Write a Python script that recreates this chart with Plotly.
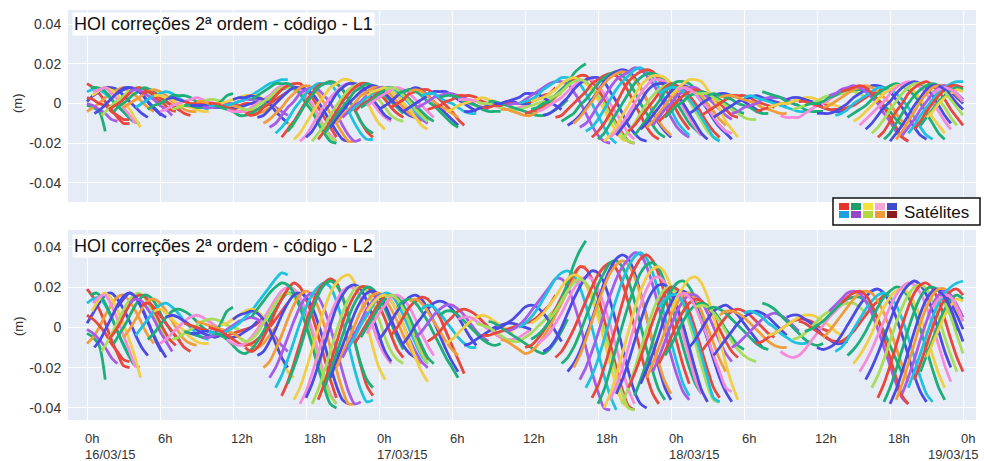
import plotly.graph_objects as go

# ---------------- DATA (hours since 16/03/15 0h, values in mm, 0.5 h sampling) ----------------
STEP_H = 0.5

D1_START = [0.0, 0.0, 0.0, 0.0, 0.0, 0.0, 0.0, 0.3, 0.4, 0.5, 0.6, 1.2, 1.8, 2.2, 2.5, 3.0, 3.5, 4.0, 4.5, 5.0,
            5.5, 6.0, 6.5, 7.0, 8.0, 8.0, 8.5, 9.0, 9.5, 10.0, 10.0, 10.5, 11.0, 11.5, 12.0, 12.5, 13.0, 13.5,
            14.0, 14.5, 15.0, 15.5, 16.0, 16.5, 17.0, 17.5, 18.0, 18.5, 19.0, 19.5, 20.0, 20.5, 21.0, 21.5,
            22.0, 22.5, 23.0, 23.0]
D1_L2 = [
    [19, 15, 9, 2, -6, -13, -19, -20], [-3, -5, -9, -26], [2, 7, 12, 16, 17, 14, 9, 3, -4, -10, -14],
    [-8, -5, 0, 6, 11, 15, 16, 13, 8, 2, -4, -8], [-1, -3, -6, -10, -15, -18], [12, 14, 15, 11, 5, -2, -9, -15],
    [6, 4, 1, -3, -8, -12, -16, -17], [16, 17, 14, 8, 1, -6, -12, -18, -20], [8, 13, 17, 15, 10, 3, -5, -14, -25],
    [12, 15, 16, 11, 4, -4, -12, -20], [-10, -6, 0, 6, 12, 16, 17, 14, 8, 1, -6, -12],
    [-12, -7, -1, 5, 11, 15, 17, 15, 10, 4, -2, -7], [-6, -2, 3, 9, 14, 16, 15, 11, 5, -1, -6, -9],
    [-8, -3, 2, 8, 13, 16, 15, 11, 5, 0, -4, -7], [10, 14, 17, 15, 10, 3, -4, -10, -15],
    [-5, -1, 4, 9, 13, 14, 12, 8, 3, -2, -6, -8, -9], [12, 14, 13, 9, 4, -2, -7, -12],
    [-4, 0, 4, 8, 11, 12, 10, 7, 3, 0, -3, -5, -6], [11, 12, 10, 6, 2, -2, -6, -10, -12],
    [-6, -3, 1, 5, 8, 9, 8, 6, 3, 0, -2, -3], [8, 9, 7, 4, 1, -2, -5, -7, -8, -8],
    [-8, -6, -3, 0, 3, 5, 6, 5, 3, 1, -1, -2], [5, 6, 5, 3, 1, -1, -3, -4, -5, -4, -3],
    [-6, -5, -3, -1, 1, 3, 4, 4, 3, 1, 0, -1], [2, 1, 0, -1, -2, -3, -4, -4, -3, -2, -1, 0, 2, 5],
    [-2, -3, -4, -5, -5, -3, 2, 8, 10], [-3, -3, -2, -2, -3, -4, -5, -5, -4, -2, 0, 3],
    [3, 2, 1, 0, -1, -2, -3, -5, -7, -9, -10, -8, -4, 0], [-5, -5, -4, -3, -1, 1, 3, 4, 5, 4, 2, -1, -5, -9, -12],
    [-2, -3, -3, -2, 0, 2, 5, 8, 12, 16, 20, 24, 27, 26], [0, -1, -2, -4, -6, -8, -9, -8, -6, -3, 0, 4, 8, 12],
    [-3, -4, -6, -9, -12, -13, -11, -7, -2, 4, 9, 14, 17, 16, 12, 5, -5, -16, -26, -34],
    [1, 2, 4, 6, 8, 9, 8, 5, 0, -7, -15, -22, -25],
    [-6, -8, -9, -8, -5, -1, 4, 9, 14, 18, 20, 19, 15, 8, -1, -12, -24, -33, -38],
    [4, 6, 7, 8, 7, 4, -1, -8, -15, -20],
    [-5, -7, -6, -3, 2, 7, 12, 16, 17, 15, 10, 3, -6, -16, -26, -34, -38],
    [-10, -12, -10, -5, 1, 8, 14, 19, 22, 20, 14, 6, -4, -15, -26, -35],
    [5, 9, 13, 17, 20, 22, 21, 17, 10, 1, -9, -20, -30, -38, -40],
    [-14, -12, -7, -1, 6, 12, 16, 17, 15, 10, 2, -8, -19, -29, -36, -38],
    [-20, -17, -11, -4, 4, 11, 16, 18, 16, 10, 1, -10, -21, -31, -38, -38],
    [-25, -20, -13, -5, 3, 10, 15, 17, 15, 9, 0, -11, -22, -32, -38, -37],
    [-30, -24, -16, -7, 2, 10, 16, 20, 22, 20, 13, 3, -9, -21, -31, -37, -36],
    [-34, -27, -18, -8, 2, 11, 18, 22, 24, 22, 15, 5, -7, -19, -29, -34],
    [-28, -20, -11, -1, 8, 16, 21, 23, 21, 15, 5, -7, -18, -26, -30],
    [-36, -30, -21, -11, -1, 9, 17, 22, 25, 26, 22, 13, 2, -10, -20, -26],
    [-38, -32, -23, -13, -3, 6, 13, 18, 20, 19, 15, 8, 0, -8, -14, -18],
    [-35, -28, -19, -9, 1, 10, 16, 20, 21, 19, 13, 5, -4, -12, -17],
    [-38, -31, -22, -12, -2, 7, 14, 19, 20, 18, 12, 4, -5, -12, -16, -18],
    [-36, -28, -18, -8, 2, 10, 16, 20, 20, 17, 11, 4, -4, -11, -15],
    [-30, -22, -13, -4, 5, 12, 17, 20, 19, 15, 9, 2, -5, -11],
    [-25, -17, -9, -1, 7, 13, 17, 18, 16, 11, 4, -3, -9, -13, -15],
    [-20, -13, -6, 1, 8, 13, 16, 17, 14, 9, 3, -4, -10, -15, -18],
    [-15, -9, -3, 3, 9, 13, 16, 16, 13, 8, 1, -6, -12, -17, -20],
    [-10, -5, 1, 6, 11, 15, 17, 16, 12, 6, -1, -8, -14, -18],
    [-8, -3, 2, 7, 12, 15, 16, 14, 10, 4, -3, -10, -16],
    [-5, 0, 5, 10, 14, 16, 15, 11, 5, -2, -9, -15, -18],
    [8, 12, 15, 16, 13, 8, 1, -7, -15, -22, -27],
    [-3, 2, 7, 11, 15, 16, 14, 10, 4, -3, -9, -14],
]
D1_L1 = [
    [10, 8, 5, 1, -3, -7, -10, -10], [-1, -2, -4, -14], [1, 4, 6, 8, 8, 7, 4, 1, -2, -5, -7],
    [-4, -2, 0, 3, 5, 7, 8, 6, 4, 1, -2, -4], [0, -1, -3, -5, -8, -9], [6, 7, 7, 5, 2, -1, -4, -7],
    [3, 2, 0, -1, -4, -6, -8, -8], [8, 8, 7, 4, 0, -3, -6, -9, -10], [4, 6, 8, 7, 5, 1, -2, -7, -12],
    [6, 7, 8, 5, 2, -2, -6, -10], [-5, -3, 0, 3, 6, 8, 8, 7, 4, 0, -3, -6],
    [-6, -3, 0, 2, 5, 7, 8, 7, 5, 2, -1, -3], [-3, -1, 1, 4, 7, 8, 7, 5, 2, 0, -3, -4],
    [-4, -1, 1, 4, 6, 8, 7, 5, 2, 0, -2, -3], [5, 7, 8, 7, 5, 1, -2, -5, -7],
    [-2, 0, 2, 4, 6, 7, 6, 4, 1, -1, -3, -4, -4], [6, 7, 6, 4, 2, -1, -3, -6],
    [-2, 0, 2, 4, 5, 6, 5, 3, 1, 0, -1, -2, -3], [5, 6, 5, 3, 1, -1, -3, -5, -6],
    [-3, -1, 0, 2, 4, 4, 4, 3, 1, 0, -1, -1], [4, 4, 3, 2, 0, -1, -2, -3, -4, -4],
    [-4, -3, -1, 0, 1, 2, 3, 2, 1, 0, 0, -1], [2, 3, 2, 1, 0, 0, -1, -2, -2, -2, -1],
    [-3, -2, -1, 0, 0, 1, 2, 2, 1, 0, 0, 0], [1, 0, 0, 0, -1, -1, -2, -2, -1, -1, 0, 0, 1, 2],
    [-1, -1, -2, -2, -2, -1, 1, 4, 5], [-1, -1, -1, -1, -1, -2, -2, -2, -2, -1, 0, 1],
    [1, 1, 0, 0, 0, -1, -1, -2, -3, -4, -5, -4, -2, 0], [-2, -2, -2, -1, 0, 0, 1, 2, 2, 2, 1, 0, -2, -4, -6],
    [-1, -1, -1, -1, 0, 1, 2, 4, 6, 8, 10, 11, 12, 12], [0, 0, -1, -2, -3, -4, -4, -4, -3, -1, 0, 2, 4, 6],
    [-1, -2, -3, -4, -6, -6, -5, -3, -1, 2, 4, 7, 8, 8, 6, 2, -2, -8, -13, -17],
    [0, 1, 2, 3, 4, 4, 4, 2, 0, -3, -7, -10, -12],
    [-3, -4, -4, -4, -2, 0, 2, 4, 7, 9, 10, 9, 7, 4, 0, -6, -12, -16, -19],
    [2, 3, 3, 4, 3, 2, 0, -4, -7, -10],
    [-2, -3, -3, -1, 1, 3, 6, 8, 8, 7, 5, 1, -3, -8, -13, -17, -19],
    [-5, -6, -5, -2, 0, 4, 7, 9, 10, 10, 7, 3, -2, -7, -12, -17],
    [2, 4, 6, 8, 10, 10, 10, 8, 5, 0, -4, -10, -15, -19, -20],
    [-7, -6, -3, 0, 3, 6, 8, 8, 7, 5, 1, -4, -9, -14, -18, -19],
    [-10, -8, -5, -2, 2, 5, 8, 9, 8, 5, 0, -5, -10, -15, -19, -19],
    [-12, -10, -6, -2, 1, 5, 7, 8, 7, 4, 0, -5, -11, -16, -19, -18],
    [-15, -12, -8, -3, 1, 5, 8, 10, 10, 10, 6, 1, -4, -10, -15, -18, -18],
    [-17, -13, -9, -4, 1, 5, 9, 10, 11, 10, 7, 2, -3, -9, -14, -17],
    [-14, -10, -5, 0, 4, 8, 10, 11, 10, 7, 2, -3, -9, -13, -15],
    [-18, -15, -10, -5, 0, 4, 8, 10, 12, 12, 10, 6, 1, -5, -10, -13],
    [-19, -16, -11, -6, -1, 3, 6, 9, 10, 9, 7, 4, 0, -4, -7, -9],
    [-17, -14, -9, -4, 0, 5, 8, 10, 10, 9, 6, 2, -2, -6, -8],
    [-19, -15, -11, -6, -1, 3, 7, 9, 10, 9, 6, 2, -2, -6, -8, -9],
    [-18, -14, -9, -4, 1, 5, 8, 10, 10, 8, 5, 2, -2, -5, -7],
    [-15, -11, -6, -2, 2, 6, 8, 10, 9, 7, 4, 1, -2, -5],
    [-12, -8, -4, 0, 3, 6, 8, 9, 8, 5, 2, -1, -4, -6, -7],
    [-10, -6, -3, 0, 4, 6, 8, 8, 7, 4, 1, -2, -5, -7, -9],
    [-7, -4, -1, 1, 4, 6, 8, 8, 6, 4, 0, -3, -6, -8, -10],
    [-5, -2, 0, 3, 5, 7, 8, 8, 6, 3, 0, -4, -7, -9],
    [-4, -1, 1, 3, 6, 7, 8, 7, 5, 2, -1, -5, -8],
    [-2, 0, 2, 5, 7, 8, 7, 5, 2, -1, -4, -7, -9],
    [4, 6, 7, 8, 6, 4, 0, -3, -7, -11, -13],
    [-1, 1, 3, 5, 7, 8, 7, 5, 2, -1, -4, -7],
]

D2_START = [24.0, 24.5, 25.0, 25.5, 26.0, 26.5, 27.0, 27.5, 28.0, 29.0, 29.5, 30.5, 31.0, 32.0, 32.5, 33.0,
            33.5, 34.0, 34.5, 35.5, 36.0, 36.5, 36.5, 37.0, 37.5, 38.0, 38.5, 39.0, 39.5, 40.0, 40.5, 41.0,
            41.5, 42.0, 42.5, 43.0, 43.5, 44.0, 44.5, 45.0, 45.5, 46.0, 46.5, 47.0, 47.0, 47.5]
D2_L2 = [
    [-6, -2, 3, 8, 12, 15, 16, 14, 9, 3, -4, -11, -17, -22], [15, 16, 14, 9, 2, -6, -13, -18],
    [-4, 0, 5, 10, 13, 15, 14, 10, 5, -2, -9, -16, -23], [10, 13, 14, 12, 8, 3, -3, -9, -15, -20, -25],
    [-8, -4, 1, 5, 9, 12, 13, 12, 9, 5, 0, -5, -9], [13, 14, 12, 8, 3, -2, -7, -11, -14],
    [-5, -2, 2, 6, 9, 11, 11, 9, 6, 2, -2, -5, -7], [9, 11, 10, 7, 3, -1, -5, -8, -10, -10],
    [-7, -5, -2, 2, 5, 8, 9, 8, 6, 3, 0, -3, -5], [6, 8, 8, 6, 3, 0, -3, -6, -8, -9, -8],
    [-8, -6, -3, 0, 3, 5, 6, 5, 3, 1, -1, -3], [4, 5, 5, 3, 1, -1, -3, -5, -6, -6, -5, -3, -1],
    [-9, -8, -6, -4, -2, 0, 1, 2, 2, 1, 0, -1], [2, 1, 0, -2, -4, -6, -7, -7, -5, -3, 0, 3, 6, 9, 11],
    [-4, -4, -3, -2, -1, 0, 1, 2, 3, 5, 8, 11, 16], [3, 2, 0, -2, -4, -6, -8, -10, -12, -13, -11, -7, -2, 4],
    [-1, 0, 2, 4, 7, 10, 11, 10, 7, 3, -2, -7], [-6, -7, -9, -11, -13, -12, -9, -5, 0, 6, 12, 18, 24, 30, 30],
    [-2, -1, 1, 4, 8, 12, 16, 20, 24, 24, 20, 12, 2, -10, -22, -32, -40, -41],
    [0, 2, 5, 9, 14, 19, 24, 27, 28, 26, 20, 11, 0, -12, -24, -34, -41],
    [-10, -9, -6, -2, 3, 9, 15, 21, 26, 30, 29, 24, 15, 4, -8, -20, -31, -39, -41],
    [-6, -4, -1, 3, 8, 14, 22, 31, 38, 43],
    [2, 4, 7, 11, 15, 20, 24, 26, 25, 21, 14, 5, -6, -18, -29, -37, -40],
    [-8, -6, -3, 2, 7, 13, 19, 23, 25, 24, 19, 11, 1, -10, -21, -31, -38],
    [-12, -10, -6, 0, 7, 14, 20, 25, 28, 27, 22, 13, 2, -10, -22, -32, -38, -40],
    [4, 8, 13, 18, 22, 24, 22, 17, 9, -1, -12, -23, -33, -40, -41],
    [-15, -12, -7, -1, 6, 13, 20, 26, 30, 32, 29, 22, 12, 0, -12, -24, -33, -38],
    [-18, -15, -10, -3, 5, 13, 21, 27, 32, 33, 30, 23, 13, 1, -11, -22, -31, -36],
    [-22, -18, -12, -4, 4, 13, 22, 29, 34, 36, 34, 27, 17, 5, -8, -20, -30, -36],
    [-20, -14, -6, 3, 12, 20, 27, 31, 33, 31, 25, 16, 5, -7, -18, -27, -33],
    [-26, -20, -12, -3, 7, 16, 24, 30, 34, 37, 36, 30, 21, 10, -2, -14, -24, -32, -36],
    [-30, -24, -16, -6, 4, 14, 23, 30, 35, 37, 34, 27, 17, 5, -7, -18, -28, -34],
    [-35, -29, -20, -10, 1, 12, 22, 29, 34, 36, 33, 26, 16, 4, -8, -19, -28],
    [-38, -31, -21, -10, 1, 11, 20, 27, 31, 32, 29, 22, 12, 1, -10, -20, -28, -33],
    [-40, -33, -24, -13, -2, 9, 18, 25, 29, 30, 27, 20, 11, 0, -11, -22, -31, -37],
    [-36, -29, -20, -10, 1, 11, 19, 24, 25, 22, 16, 7, -4, -15, -26, -33],
    [-33, -26, -17, -7, 3, 12, 18, 21, 21, 17, 10, 1, -10, -21, -31, -37],
    [-38, -30, -21, -11, -1, 8, 15, 19, 20, 17, 11, 2, -8, -19, -29, -36, -37],
    [-30, -23, -15, -6, 3, 11, 17, 20, 19, 15, 8, -1, -11, -21, -30, -35],
    [-34, -26, -17, -7, 3, 12, 18, 22, 23, 20, 14, 5, -5, -15, -24, -30],
    [-28, -21, -13, -4, 5, 12, 17, 18, 16, 11, 3, -6, -16, -25, -32, -37],
    [-25, -18, -10, -2, 6, 12, 16, 17, 14, 8, 0, -8, -16, -22],
    [-22, -15, -7, 1, 8, 13, 16, 16, 13, 7, 0, -7, -13, -17],
    [10, 14, 16, 16, 12, 5, -4, -14, -25, -35, -37],
    [-18, -12, -5, 2, 8, 12, 14, 13, 10, 5, -1, -7, -12, -15],
    [-14, -9, -3, 3, 8, 11, 12, 11, 8, 4, -1, -5, -9, -11],
]
D2_L1 = [
    [-3, -1, 1, 4, 6, 7, 8, 7, 4, 1, -2, -5, -8, -11], [7, 8, 7, 4, 1, -3, -6, -9],
    [-2, 0, 2, 5, 6, 7, 7, 5, 2, -1, -4, -8, -11], [5, 6, 7, 6, 4, 1, -1, -4, -7, -10, -12],
    [-4, -2, 0, 2, 4, 6, 6, 6, 4, 2, 0, -2, -4], [6, 7, 6, 4, 1, -1, -3, -5, -7],
    [-2, -1, 1, 3, 4, 5, 5, 4, 3, 1, -1, -2, -3], [4, 5, 5, 3, 1, 0, -2, -4, -5, -5],
    [-3, -2, -1, 1, 2, 4, 4, 4, 3, 1, 0, -1, -2], [3, 4, 4, 3, 1, 0, -1, -3, -4, -4, -4],
    [-4, -3, -1, 0, 1, 2, 3, 2, 1, 0, 0, -1], [2, 2, 2, 1, 0, 0, -1, -2, -3, -3, -2, -1, 0],
    [-4, -4, -3, -2, -1, 0, 0, 1, 1, 0, 0, 0], [1, 0, 0, -1, -2, -3, -3, -3, -2, -1, 0, 1, 3, 4, 5],
    [-2, -2, -1, -1, 0, 0, 0, 1, 1, 2, 4, 5, 8], [1, 1, 0, -1, -2, -3, -4, -5, -6, -6, -5, -3, -1, 2],
    [0, 0, 1, 2, 3, 5, 5, 5, 3, 1, -1, -3], [-3, -3, -4, -5, -6, -6, -4, -2, 0, 3, 6, 9, 12, 14, 14],
    [-1, 0, 0, 2, 4, 6, 8, 10, 11, 11, 10, 6, 1, -5, -11, -16, -19, -20],
    [0, 1, 2, 4, 7, 9, 11, 13, 13, 12, 10, 5, 0, -6, -12, -17, -20],
    [-5, -4, -3, -1, 1, 4, 7, 10, 12, 14, 14, 11, 7, 2, -4, -10, -15, -19, -20],
    [-3, -2, 0, 1, 4, 7, 10, 15, 18, 20],
    [1, 2, 3, 5, 7, 10, 12, 13, 12, 10, 7, 2, -3, -9, -14, -18, -19],
    [-4, -3, -1, 1, 3, 6, 9, 11, 12, 12, 9, 5, 0, -5, -10, -15, -18],
    [-6, -5, -3, 0, 3, 7, 10, 12, 13, 13, 11, 6, 1, -5, -11, -15, -18, -19],
    [2, 4, 6, 9, 11, 12, 11, 8, 4, 0, -6, -11, -16, -19, -20],
    [-7, -6, -3, 0, 3, 6, 10, 12, 14, 15, 14, 11, 6, 0, -6, -12, -16, -18],
    [-9, -7, -5, -1, 2, 6, 10, 13, 15, 16, 14, 11, 6, 0, -5, -11, -15, -17],
    [-11, -9, -6, -2, 2, 6, 11, 14, 16, 17, 16, 13, 8, 2, -4, -10, -14, -17],
    [-10, -7, -3, 1, 6, 10, 13, 15, 16, 15, 12, 8, 2, -3, -9, -13, -16],
    [-12, -10, -6, -1, 3, 8, 12, 14, 16, 18, 17, 14, 10, 5, -1, -7, -12, -15, -17],
    [-14, -12, -8, -3, 2, 7, 11, 14, 17, 18, 16, 13, 8, 2, -3, -9, -13, -16],
    [-17, -14, -10, -5, 0, 6, 11, 14, 16, 17, 16, 12, 8, 2, -4, -9, -13],
    [-18, -15, -10, -5, 0, 5, 10, 13, 15, 15, 14, 11, 6, 0, -5, -10, -13, -16],
    [-19, -16, -12, -6, -1, 4, 9, 12, 14, 14, 13, 10, 5, 0, -5, -11, -15, -18],
    [-17, -14, -10, -5, 0, 5, 9, 12, 12, 11, 8, 3, -2, -7, -12, -16],
    [-16, -12, -8, -3, 1, 6, 9, 10, 10, 8, 5, 0, -5, -10, -15, -18],
    [-18, -14, -10, -5, 0, 4, 7, 9, 10, 8, 5, 1, -4, -9, -14, -17, -18],
    [-14, -11, -7, -3, 1, 5, 8, 10, 9, 7, 4, 0, -5, -10, -14, -17],
    [-16, -12, -8, -3, 1, 6, 9, 11, 11, 10, 7, 2, -2, -7, -11, -14],
    [-13, -10, -6, -2, 2, 6, 8, 9, 8, 5, 1, -3, -8, -12, -15, -18],
    [-12, -9, -5, -1, 3, 6, 8, 8, 7, 4, 0, -4, -8, -11],
    [-11, -7, -3, 0, 4, 6, 8, 8, 6, 3, 0, -3, -6, -8],
    [5, 7, 8, 8, 6, 2, -2, -7, -12, -17, -19],
    [-9, -6, -2, 1, 4, 6, 7, 6, 5, 2, 0, -3, -6, -7],
    [-7, -4, -1, 1, 4, 5, 6, 5, 4, 2, 0, -2, -4, -5],
]

D3_START = [48.0, 48.5, 49.5, 50.0, 50.5, 51.0, 51.5, 52.0, 53.0, 54.0, 55.0, 55.5, 56.0, 57.0, 57.5, 58.0,
            58.5, 59.0, 60.0, 60.5, 61.0, 61.5, 62.0, 62.5, 63.0, 63.5, 64.0, 64.5, 65.0, 65.5, 66.0, 66.5,
            67.0, 67.5, 68.0, 68.5, 69.0, 69.5, 70.0, 70.5]
D3_L2 = [
    [8, 15, 20, 24, 25, 22, 15, 5, -6, -18, -28, -36], [15, 17, 15, 10, 3, -5, -14, -22, -30, -32],
    [-10, -6, -1, 4, 8, 10, 11, 9, 6, 2, -2, -6, -10], [10, 11, 10, 7, 3, -2, -7, -11, -14, -16, -17],
    [-12, -8, -4, 1, 5, 8, 9, 8, 6, 3, 0, -3, -5], [9, 10, 9, 7, 4, 1, -2, -5, -8, -10, -11],
    [-14, -10, -6, -2, 2, 5, 7, 8, 7, 5, 2, -1, -4], [6, 8, 8, 7, 5, 2, -1, -4, -7, -9, -10, -10],
    [-10, -8, -5, -2, 1, 4, 6, 7, 6, 4, 1, -2], [7, 8, 7, 5, 2, 0, -3, -5, -7, -8, -8, -7],
    [-8, -7, -5, -3, -1, 1, 3, 4, 4, 3, 1, -1, -2], [12, 11, 9, 6, 3, 0, -3, -6, -8, -9, -8],
    [-4, -3, -1, 1, 3, 5, 6, 6, 5, 3, 1, -2, -4], [-12, -14, -15, -14, -11, -7, -3, 1, 5, 8, 11, 13],
    [5, 6, 6, 4, 2, -1, -4, -6, -8, -8, -7], [-6, -5, -3, 0, 3, 6, 8, 10, 11, 12, 12, 10, 7],
    [3, 2, 0, -2, -4, -6, -7, -7, -5, -2, 2, 6, 10, 13, 16],
    [-2, -1, 1, 3, 6, 9, 12, 14, 15, 15, 13, 9, 4, -2, -9, -16, -23],
    [-10, -11, -10, -8, -4, 1, 6, 11, 15, 18, 19, 17, 12, 5, -4, -14, -24, -32, -37],
    [-5, -2, 2, 6, 10, 14, 17, 18, 17, 13, 7, -1, -10, -19, -27],
    [8, 11, 14, 17, 18, 17, 13, 7, -1, -10, -19, -28, -35, -38],
    [-12, -10, -6, -1, 4, 9, 13, 16, 17, 15, 11, 4, -5, -15, -25, -33, -37],
    [12, 15, 17, 18, 16, 11, 4, -5, -15, -25, -34, -38],
    [-14, -11, -7, -2, 4, 10, 15, 18, 20, 19, 15, 8, -1, -11, -21, -30, -36],
    [-18, -14, -9, -3, 4, 10, 15, 18, 19, 17, 12, 5, -4, -14, -23, -30],
    [-22, -17, -11, -4, 3, 10, 16, 20, 22, 21, 17, 10, 1, -9, -19, -27],
    [-26, -20, -13, -5, 3, 11, 17, 21, 23, 21, 16, 8, -2, -12, -20],
    [-30, -24, -16, -7, 2, 10, 16, 20, 21, 19, 13, 5, -5, -14, -22],
    [-35, -28, -19, -9, 1, 10, 17, 21, 22, 19, 13, 4, -6, -15, -22],
    [-37, -30, -21, -11, -1, 8, 15, 19, 20, 18, 13, 6, -2],
    [-38, -31, -22, -12, -2, 7, 14, 18, 19, 17, 12, 6, -1],
    [-36, -28, -18, -8, 2, 10, 16, 19, 19, 15, 9, 3],
    [-33, -25, -16, -6, 3, 11, 16, 18, 16, 11, 5], [-30, -22, -13, -4, 5, 12, 17, 20, 22, 23],
    [-26, -18, -9, 0, 8, 14, 18, 19, 16], [-22, -14, -6, 2, 9, 14, 16, 14], [-15, -8, -1, 6, 11, 14, 13],
    [10, 14, 16, 15, 10, 3], [18, 15, 9, 1, -7], [12, 5, -4, -13],
]
D3_L1 = [
    [4, 7, 10, 12, 12, 11, 7, 2, -3, -9, -13, -17], [7, 8, 7, 5, 1, -2, -7, -11, -14, -15],
    [-5, -3, 0, 2, 4, 5, 5, 4, 3, 1, -1, -3, -5], [5, 5, 5, 3, 1, -1, -3, -5, -7, -8, -8],
    [-6, -4, -2, 0, 2, 4, 4, 4, 3, 1, 0, -1, -2], [4, 5, 4, 3, 2, 0, -1, -2, -4, -5, -5],
    [-7, -5, -3, -1, 1, 2, 3, 4, 3, 2, 1, 0, -2], [3, 4, 4, 3, 2, 1, 0, -2, -3, -4, -5, -5],
    [-5, -4, -2, -1, 0, 2, 3, 3, 3, 2, 0, -1], [3, 4, 3, 2, 1, 0, -1, -2, -3, -4, -4, -3],
    [-4, -3, -2, -1, 0, 0, 1, 2, 2, 1, 0, 0, -1], [6, 5, 4, 3, 1, 0, -1, -3, -4, -4, -4],
    [-2, -1, 0, 0, 1, 2, 3, 3, 2, 1, 0, -1, -2], [-6, -7, -7, -7, -5, -3, -1, 0, 2, 4, 5, 6],
    [2, 3, 3, 2, 1, 0, -2, -3, -4, -4, -3], [-3, -2, -1, 0, 1, 3, 4, 5, 5, 6, 6, 5, 3],
    [1, 1, 0, -1, -2, -3, -3, -3, -2, -1, 1, 3, 5, 6, 8],
    [-1, 0, 0, 1, 3, 4, 6, 7, 7, 7, 6, 4, 2, -1, -4, -8, -11],
    [-5, -5, -5, -4, -2, 0, 3, 5, 7, 9, 9, 8, 6, 2, -2, -7, -12, -16, -18],
    [-2, -1, 1, 3, 5, 7, 8, 9, 8, 6, 3, 0, -5, -9, -13],
    [4, 5, 7, 8, 9, 8, 6, 3, 0, -5, -9, -14, -17, -19],
    [-6, -5, -3, 0, 2, 4, 6, 8, 8, 7, 5, 2, -2, -7, -12, -16, -18],
    [6, 7, 8, 9, 8, 5, 2, -2, -7, -12, -17, -19],
    [-7, -5, -3, -1, 2, 5, 7, 9, 10, 9, 7, 4, 0, -5, -10, -15, -18],
    [-9, -7, -4, -1, 2, 5, 7, 9, 9, 8, 6, 2, -2, -7, -11, -15],
    [-11, -8, -5, -2, 1, 5, 8, 10, 11, 10, 8, 5, 0, -4, -9, -13],
    [-13, -10, -6, -2, 1, 5, 8, 10, 11, 10, 8, 4, -1, -6, -10],
    [-15, -12, -8, -3, 1, 5, 8, 10, 10, 9, 6, 2, -2, -7, -11],
    [-17, -14, -9, -4, 0, 5, 8, 10, 11, 9, 6, 2, -3, -7, -11],
    [-18, -15, -10, -5, 0, 4, 7, 9, 10, 9, 6, 3, -1],
    [-19, -15, -11, -6, -1, 3, 7, 9, 9, 8, 6, 3, 0],
    [-18, -14, -9, -4, 1, 5, 8, 9, 9, 7, 4, 1],
    [-16, -12, -8, -3, 1, 5, 8, 9, 8, 5, 2], [-15, -11, -6, -2, 2, 6, 8, 10, 11, 11],
    [-13, -9, -4, 0, 4, 7, 9, 9, 8], [-11, -7, -3, 1, 4, 7, 8, 7], [-7, -4, 0, 3, 5, 7, 6],
    [5, 7, 8, 7, 5, 1], [9, 7, 4, 0, -3], [6, 2, -2, -6],
]

TICK_HOURS = [0, 6, 12, 18, 24, 30, 36, 42, 48, 54, 60, 66, 72]
TICK_TEXT = ["0h", "6h", "12h", "18h", "0h", "6h", "12h", "18h", "0h", "6h", "12h", "18h", "0h"]
DATE_LABELS = {0: "16/03/15", 24: "17/03/15", 48: "18/03/15", 72: "19/03/15"}
Y_TICKS = [-0.04, -0.02, 0, 0.02, 0.04]
Y_TICK_TEXT = ["-0.04", "-0.02", "0", "0.02", "0.04"]
TITLE_L1 = "HOI correções 2ª ordem - código - L1"
TITLE_L2 = "HOI correções 2ª ordem - código - L2"
LEGEND_TEXT = "Satélites"

# ---------------- STYLE ----------------
COLORS = ["#E8473D", "#1DAF77", "#4B4BE3", "#F39C3C", "#A65CE8", "#1FC2DE",
          "#E8473D", "#1DAF77", "#F2CE45", "#F58CDB", "#4B4BE3", "#A8DD5B"]
LEGEND_COLORS = [["#E3332B", "#1F9D6B", "#F2E23A", "#F7A6D8", "#3D4CC8"],
                 ["#1E9FE0", "#9547C9", "#B3D93F", "#EE9A3A", "#8B1A1A"]]
FONT = "Liberation Sans, Arial, sans-serif"
W, H = 984, 461
ML, MR, MT, MB = 68, 8, 10, 41
PW, PH = W - ML - MR, H - MT - MB


def px_x(px):
    return (px - ML) / PW


def px_y(py):
    return (H - MB - py) / PH


fig = go.Figure()

starts = D1_START + D2_START + D3_START
l2 = D1_L2 + D2_L2 + D3_L2
l1 = D1_L1 + D2_L1 + D3_L1

for i, (s, a1, a2) in enumerate(zip(starts, l1, l2)):
    c = COLORS[i % len(COLORS)]
    for arr, xa, ya in ((a1, "x", "y"), (a2, "x2", "y2")):
        xs = [s + STEP_H * k for k in range(len(arr))]
        ys = [v / 1000.0 for v in arr]
        fig.add_trace(go.Scatter(x=xs, y=ys, xaxis=xa, yaxis=ya, mode="lines",
                                 line=dict(color=c, width=2.8, shape="spline", smoothing=0.8),
                                 showlegend=False, hoverinfo="skip"))

xcommon = dict(range=[(ML - 87) / 12.167, (ML + PW - 87) / 12.167], tickvals=TICK_HOURS,
               showticklabels=False, showgrid=True, gridcolor="white", gridwidth=1,
               zeroline=False, showline=False, ticks="")
ycommon = dict(tickvals=Y_TICKS, ticktext=Y_TICK_TEXT, showgrid=True, gridcolor="white", gridwidth=1,
               zeroline=False, showline=False, ticks="outside", ticklen=3, tickcolor="rgba(0,0,0,0)",
               tickfont=dict(family=FONT, size=14, color="#333"))

fig.update_layout(
    width=W, height=H, margin=dict(l=ML, r=MR, t=MT, b=MB),
    plot_bgcolor="#E5ECF6", paper_bgcolor="white", showlegend=False,
    xaxis=dict(domain=[0, 1], anchor="y", **xcommon),
    xaxis2=dict(domain=[0, 1], anchor="y2", **xcommon),
    yaxis=dict(domain=[px_y(202), 1.0], anchor="x", range=[-0.0496, 0.0471], **ycommon),
    yaxis2=dict(domain=[0, px_y(230)], anchor="x2", range=[-0.046, 0.0483], **ycommon),
)

ann = []
for title, ytop in ((TITLE_L1, 12), (TITLE_L2, 234)):
    ann.append(dict(text=title, xref="paper", yref="paper", x=px_x(72), y=px_y(ytop),
                    xanchor="left", yanchor="top", showarrow=False, bgcolor="white", borderpad=1,
                    font=dict(family=FONT, size=18, color="#111")))
for yc in (103, 326):
    ann.append(dict(text="(m)", xref="paper", yref="paper", x=px_x(18), y=px_y(yc), textangle=-90,
                    showarrow=False, xanchor="center", yanchor="middle",
                    font=dict(family=FONT, size=13, color="#333")))
for h, t in zip(TICK_HOURS, TICK_TEXT):
    ann.append(dict(text=t, xref="x2", yref="paper", x=h - 0.3, y=px_y(438), xanchor="left",
                    yanchor="middle", showarrow=False, font=dict(family=FONT, size=13, color="#333")))
for h, t in DATE_LABELS.items():
    if h < 72:
        ann.append(dict(text=t, xref="x2", yref="paper", x=h - 0.35, y=px_y(454), xanchor="left",
                        yanchor="middle", showarrow=False, font=dict(family=FONT, size=13, color="#333")))
    else:
        ann.append(dict(text=t, xref="paper", yref="paper", x=px_x(981), y=px_y(454), xanchor="right",
                        yanchor="middle", showarrow=False, font=dict(family=FONT, size=13, color="#333")))
ann.append(dict(text=LEGEND_TEXT, xref="paper", yref="paper", x=px_x(902), y=px_y(212), xanchor="left",
                yanchor="middle", showarrow=False, font=dict(family=FONT, size=17, color="#111")))

shapes = [dict(type="rect", xref="paper", yref="paper", x0=px_x(833), x1=px_x(980), y0=px_y(225),
               y1=px_y(198), line=dict(color="#111", width=1.5), fillcolor="white")]
for r, row in enumerate(LEGEND_COLORS):
    for c, col in enumerate(row):
        x0 = 839 + 12 * c
        y0 = 203 + 8 * r
        shapes.append(dict(type="rect", xref="paper", yref="paper", x0=px_x(x0), x1=px_x(x0 + 10),
                           y0=px_y(y0 + 7), y1=px_y(y0), line=dict(width=0), fillcolor=col))

fig.update_layout(annotations=ann, shapes=shapes)
fig.write_html("out.html", config={"displayModeBar": False},
               post_script="document.body.style.margin='0px';")
